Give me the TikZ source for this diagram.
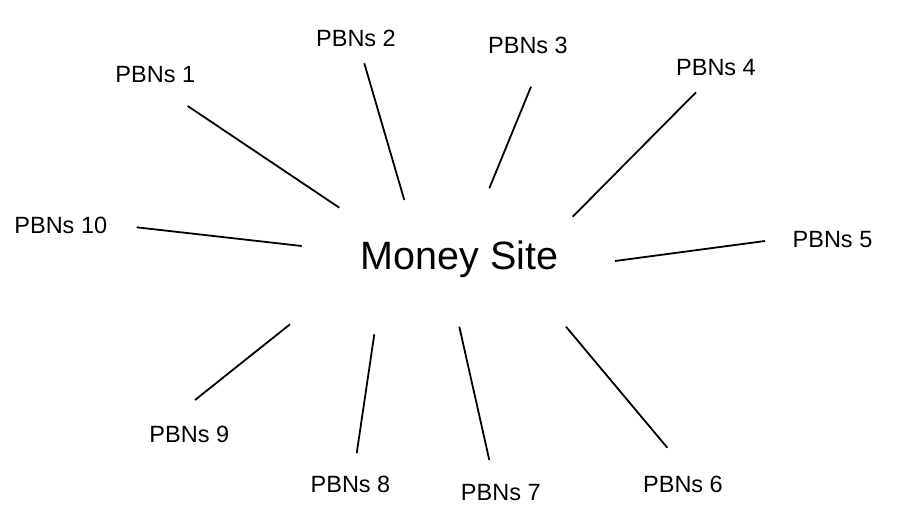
\documentclass[tikz,border=0pt]{standalone}
\usepackage{fontspec}
\setmainfont{Liberation Sans}
\begin{document}
\begin{tikzpicture}[x=1pt,y=-1pt,
  pbn/.style={anchor=base,inner sep=0pt,font=\fontsize{23.5}{28}\selectfont},
  hub/.style={anchor=base,inner sep=0pt,font=\fontsize{39.5}{46}\selectfont},
  spoke/.style={line width=1.8pt,black}]
\useasboundingbox[fill=white] (0,0) rectangle (902,520);
\node[hub] (ms) at (459.5,269) {Money Site};
\node[pbn] (p1) at (155.3,82.3) {PBNs 1};
\node[pbn] (p2) at (356,46) {PBNs 2};
\node[pbn] (p3) at (528,53.3) {PBNs 3};
\node[pbn] (p4) at (716,75.7) {PBNs 4};
\node[pbn] (p5) at (832.5,247.3) {PBNs 5};
\node[pbn] (p6) at (683,492.7) {PBNs 6};
\node[pbn] (p7) at (500.8,500) {PBNs 7};
\node[pbn] (p8) at (350.5,492.7) {PBNs 8};
\node[pbn] (p9) at (189.3,442.3) {PBNs 9};
\node[pbn] (p10) at (60.8,233.3) {PBNs 10};
\coordinate (a1) at (187.7,106);   \coordinate (b1) at (339.3,207.7);
\coordinate (a2) at (364.3,63.3);  \coordinate (b2) at (404.3,200);
\coordinate (a3) at (531,86.7);    \coordinate (b3) at (489.3,188.3);
\coordinate (a4) at (696,92.3);    \coordinate (b4) at (572.7,216.7);
\coordinate (a5) at (765,241);     \coordinate (b5) at (615,261);
\coordinate (a6) at (667.3,447.7); \coordinate (b6) at (566,326.7);
\coordinate (a7) at (489.3,460);   \coordinate (b7) at (459.3,326.7);
\coordinate (a8) at (356.7,453.3); \coordinate (b8) at (374.3,334.3);
\coordinate (a9) at (195,400);     \coordinate (b9) at (290,324.3);
\coordinate (a10) at (136.7,227.3);\coordinate (b10) at (301.7,246);
\foreach \i in {1,...,10} {\draw[spoke] (a\i) -- (b\i);}
\end{tikzpicture}
\end{document}
